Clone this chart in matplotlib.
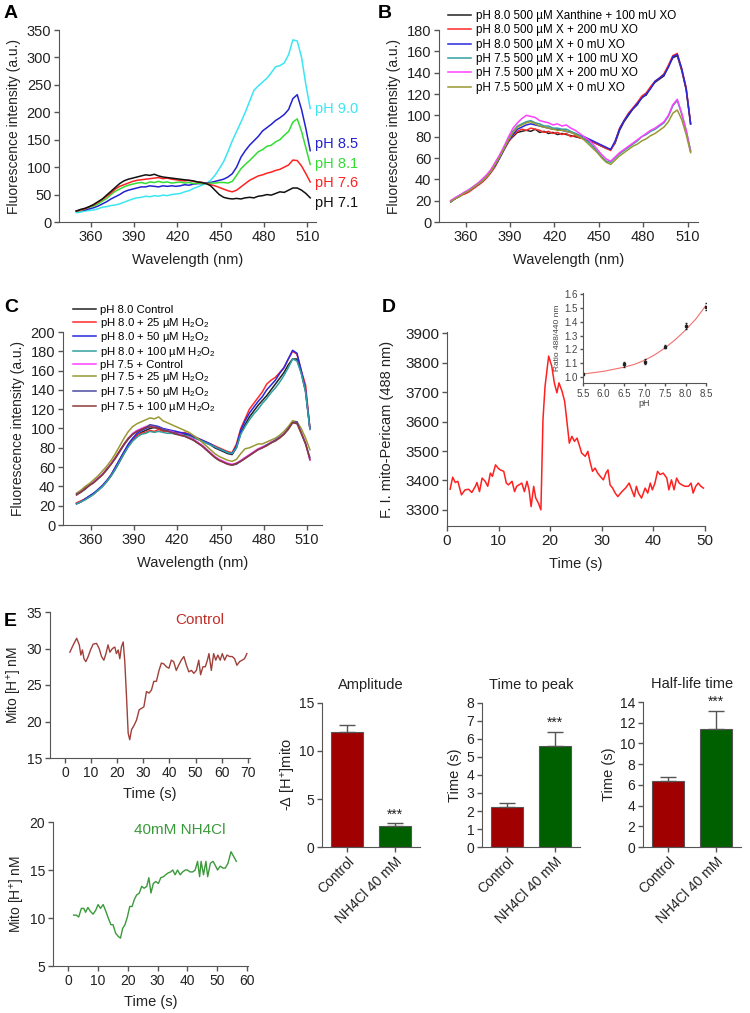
import matplotlib
matplotlib.use("Agg")
import matplotlib.pyplot as plt

plt.rcParams['font.family'] = ['Liberation Sans', 'DejaVu Sans']
plt.rcParams['mathtext.fontset'] = 'custom'
plt.rcParams['mathtext.rm'] = 'Liberation Sans'
plt.rcParams['mathtext.it'] = 'Liberation Sans:italic'

# wavelength grid of the spectra (nm)
wl = list(range(350, 513, 3))

# panel A: spectra at different pH
spec_a_ph90 = [17, 18, 20, 21, 22, 24, 27, 28, 30, 31,
               33, 36, 39, 42, 44, 45, 47, 46, 48, 47,
               49, 48, 50, 51, 52, 55, 57, 61, 64, 67,
               70, 76, 85, 97, 110, 128, 148, 165, 182, 200,
               220, 240, 248, 255, 262, 272, 283, 285, 290, 305,
               332, 330, 300, 250, 207]
spec_a_ph85 = [20, 21, 22, 24, 26, 29, 33, 37, 42, 46,
               50, 55, 58, 60, 62, 64, 64, 66, 65, 64,
               66, 65, 66, 65, 66, 68, 67, 69, 70, 70,
               71, 72, 74, 76, 78, 82, 88, 100, 118, 130,
               140, 148, 156, 166, 172, 178, 185, 190, 196, 205,
               225, 232, 205, 170, 130]
spec_a_ph81 = [20, 21, 24, 27, 29, 33, 38, 43, 50, 56,
               60, 64, 67, 69, 71, 72, 70, 73, 72, 74,
               72, 73, 71, 72, 73, 71, 72, 70, 71, 70,
               70, 71, 71, 72, 72, 71, 74, 85, 97, 105,
               112, 120, 128, 132, 138, 140, 146, 150, 158, 165,
               182, 188, 165, 135, 105]
spec_a_ph76 = [20, 22, 24, 28, 31, 36, 41, 47, 53, 60,
               65, 68, 71, 74, 76, 77, 78, 79, 80, 81,
               79, 80, 78, 77, 76, 75, 76, 74, 73, 72,
               70, 68, 66, 63, 60, 57, 55, 58, 64, 70,
               76, 80, 84, 86, 89, 91, 94, 96, 100, 104,
               113, 112, 102, 88, 73]
spec_a_ph71 = [20, 23, 25, 28, 32, 37, 42, 49, 56, 63,
               70, 75, 78, 80, 82, 84, 86, 85, 87, 84,
               82, 81, 80, 79, 78, 77, 76, 75, 73, 72,
               70, 66, 58, 50, 45, 43, 42, 43, 42, 44,
               45, 44, 47, 48, 50, 49, 52, 55, 54, 58,
               62, 62, 58, 52, 44]
labels_a = ['pH 9.0', 'pH 8.5', 'pH 8.1', 'pH 7.6', 'pH 7.1']
label_y_a = [206, 142, 106, 71, 35]

# panel B: xanthine / xanthine oxidase
spec_b_80_xo100 = [19, 22, 24, 27, 29, 32, 35, 38, 43, 48,
                   54, 61, 69, 76, 80, 84, 85, 86, 85, 87,
                   84, 85, 83, 84, 82, 83, 82, 81, 80, 79,
                   78, 76, 75, 73, 71, 69, 68, 74, 86, 94,
                   100, 106, 110, 117, 119, 126, 131, 134, 137, 146,
                   154, 156, 142, 124, 92]
spec_b_80_xo200 = [20, 22, 25, 26, 28, 31, 34, 37, 41, 46,
                   52, 60, 68, 75, 81, 85, 87, 86, 88, 87,
                   86, 84, 85, 83, 84, 82, 83, 80, 81, 79,
                   78, 77, 75, 73, 71, 69, 67, 75, 88, 95,
                   102, 107, 112, 118, 121, 127, 132, 135, 139, 147,
                   156, 158, 143, 126, 92]
spec_b_80_xo0 = [19, 22, 25, 27, 29, 32, 35, 38, 42, 47,
                 53, 60, 68, 76, 82, 87, 89, 91, 92, 91,
                 90, 89, 88, 87, 87, 86, 85, 84, 83, 81,
                 80, 78, 76, 74, 72, 70, 68, 76, 87, 95,
                 101, 106, 111, 116, 120, 125, 132, 135, 138, 145,
                 155, 157, 144, 125, 92]
spec_b_75_xo100 = [20, 22, 25, 27, 30, 33, 36, 39, 43, 48,
                   55, 62, 70, 78, 85, 90, 92, 94, 95, 93,
                   92, 90, 90, 88, 88, 87, 87, 85, 83, 81,
                   78, 75, 71, 66, 61, 57, 56, 60, 64, 67,
                   70, 73, 76, 80, 82, 85, 87, 90, 93, 99,
                   109, 114, 101, 86, 67]
spec_b_75_xo200 = [20, 23, 25, 28, 30, 33, 36, 40, 44, 49,
                   56, 63, 71, 80, 88, 93, 97, 100, 99, 98,
                   95, 94, 93, 91, 92, 90, 91, 88, 86, 83,
                   80, 77, 73, 68, 63, 59, 57, 61, 65, 68,
                   71, 74, 77, 80, 83, 86, 88, 91, 94, 100,
                   110, 115, 102, 86, 66]
spec_b_75_xo0 = [19, 22, 24, 27, 29, 32, 35, 38, 42, 47,
                 54, 61, 69, 77, 84, 89, 91, 93, 94, 92,
                 90, 89, 88, 87, 86, 86, 85, 84, 82, 80,
                 77, 73, 69, 65, 60, 56, 54, 58, 62, 65,
                 68, 71, 73, 76, 78, 81, 83, 86, 89, 94,
                 102, 105, 96, 82, 65]
labels_b = ['pH 8.0 500 µM Xanthine + 100 mU XO', 'pH 8.0 500 µM X + 200 mU XO',
            'pH 8.0 500 µM X + 0 mU XO', 'pH 7.5 500 µM X + 100 mU XO',
            'pH 7.5 500 µM X + 200 mU XO', 'pH 7.5 500 µM X + 0 mU XO']

# panel C: H2O2
spec_c_80_ctrl = [22, 24, 27, 30, 33, 36, 40, 45, 51, 58,
                  66, 74, 82, 88, 93, 96, 98, 100, 101, 100,
                  99, 98, 97, 96, 95, 94, 93, 91, 89, 87,
                  85, 83, 80, 78, 76, 74, 73, 80, 95, 104,
                  112, 118, 124, 129, 134, 140, 146, 152, 158, 166,
                  172, 172, 158, 138, 100]
spec_c_80_25 = [23, 25, 27, 29, 32, 36, 41, 46, 52, 60,
                68, 76, 83, 89, 93, 95, 96, 98, 97, 99,
                97, 98, 96, 97, 95, 96, 94, 92, 90, 88,
                86, 84, 82, 80, 78, 76, 75, 84, 100, 110,
                120, 126, 132, 138, 146, 150, 153, 158, 163, 172,
                180, 177, 160, 145, 100]
spec_c_80_50 = [22, 24, 27, 30, 33, 37, 41, 46, 52, 60,
                68, 76, 84, 90, 95, 98, 100, 102, 103, 102,
                100, 99, 98, 97, 96, 95, 94, 92, 90, 88,
                86, 84, 81, 79, 77, 75, 74, 82, 98, 108,
                116, 122, 128, 133, 140, 145, 150, 157, 163, 172,
                181, 178, 160, 140, 100]
spec_c_80_100 = [22, 24, 26, 29, 32, 36, 40, 45, 51, 58,
                 66, 74, 81, 87, 91, 94, 95, 97, 96, 97,
                 96, 95, 95, 94, 94, 93, 92, 90, 89, 87,
                 85, 83, 81, 79, 77, 75, 74, 80, 94, 102,
                 109, 115, 120, 126, 131, 137, 142, 148, 155, 163,
                 172, 170, 157, 138, 99]
spec_c_75_ctrl = [32, 35, 38, 42, 45, 49, 53, 58, 64, 70,
                  77, 84, 90, 95, 98, 100, 102, 103, 102, 101,
                  99, 98, 97, 95, 94, 92, 91, 89, 86, 83,
                  79, 75, 71, 68, 66, 64, 63, 64, 67, 70,
                  73, 76, 79, 81, 83, 86, 88, 91, 95, 100,
                  107, 106, 96, 85, 67]
spec_c_75_25 = [33, 36, 40, 43, 47, 51, 56, 61, 67, 74,
                82, 90, 97, 102, 105, 107, 109, 111, 110, 112,
                108, 106, 104, 102, 100, 98, 96, 93, 90, 86,
                82, 78, 74, 71, 69, 67, 66, 68, 74, 79,
                80, 82, 84, 84, 86, 88, 90, 93, 97, 102,
                108, 107, 100, 90, 78]
spec_c_75_50 = [32, 34, 37, 41, 44, 48, 52, 57, 63, 69,
                76, 83, 89, 94, 97, 99, 101, 104, 103, 101,
                99, 98, 96, 95, 93, 92, 90, 88, 85, 82,
                78, 74, 70, 67, 65, 63, 62, 63, 66, 69,
                72, 75, 78, 80, 83, 85, 88, 91, 94, 100,
                106, 107, 95, 84, 70]
spec_c_75_100 = [31, 34, 38, 41, 44, 48, 52, 58, 63, 70,
                 77, 84, 90, 94, 97, 99, 101, 102, 101, 100,
                 98, 97, 96, 94, 93, 92, 90, 88, 85, 82,
                 78, 74, 70, 67, 65, 63, 62, 64, 66, 69,
                 72, 75, 78, 80, 82, 85, 87, 90, 94, 99,
                 106, 105, 95, 84, 68]
h2o2 = r'H$_\mathregular{2}$O$_\mathregular{2}$'
labels_c = ['pH 8.0 Control', 'pH 8.0 + 25 µM ' + h2o2, 'pH 8.0 + 50 µM ' + h2o2,
            'pH 8.0 + 100 µM ' + h2o2, 'pH 7.5 + Control', 'pH 7.5 + 25 µM ' + h2o2,
            'pH 7.5 + 50 µM ' + h2o2, 'pH 7.5 + 100 µM ' + h2o2]

# panel D: mito-Pericam trace
d_time = [0.6, 1.1, 1.6, 2.1, 2.8, 3.5, 4.2, 4.8, 5.5, 5.8, 6.3, 6.8, 7.4, 7.9, 8.4,
          8.8, 9.4, 9.9, 10.3, 11.0, 11.5, 11.9, 12.6, 13.1, 13.5, 14.5, 15.0, 15.5,
          15.9, 16.3, 16.8, 17.2, 17.7, 18.2, 18.6, 19.0, 19.7, 20.3, 20.8, 21.3, 21.7,
          22.3, 22.8, 23.2, 23.7, 24.2, 24.7, 25.2, 25.6, 26.1, 26.8, 27.3, 27.7, 28.2,
          28.7, 29.2, 29.7, 30.3, 30.8, 31.2, 31.6, 32.1, 32.6, 33.1, 33.9, 34.6, 35.3,
          35.8, 36.3, 36.7, 37.1, 37.7, 38.4, 38.9, 39.4, 39.8, 40.3, 40.8, 41.3, 41.9,
          42.6, 43.0, 43.5, 44.0, 44.5, 45.0, 45.5, 46.1, 46.8, 47.3, 47.7, 48.2, 48.7,
          49.2, 49.7]
d_fi = [3370, 3411, 3393, 3397, 3351, 3368, 3370, 3359, 3380, 3393, 3362, 3408, 3397,
        3380, 3425, 3414, 3453, 3442, 3436, 3431, 3391, 3385, 3397, 3362, 3380, 3391,
        3362, 3397, 3368, 3311, 3380, 3340, 3323, 3300, 3607, 3720, 3823, 3789, 3732,
        3698, 3732, 3703, 3669, 3607, 3527, 3550, 3533, 3544, 3522, 3493, 3482, 3499,
        3465, 3431, 3442, 3425, 3414, 3402, 3425, 3436, 3385, 3374, 3357, 3345, 3362,
        3374, 3391, 3368, 3345, 3380, 3357, 3340, 3374, 3357, 3391, 3368, 3391, 3431,
        3420, 3425, 3408, 3368, 3402, 3368, 3408, 3391, 3385, 3380, 3380, 3391, 3357,
        3380, 3391, 3380, 3374]

# panel D inset: calibration
cal_ph = [5.5, 6.5, 7.0, 7.5, 8.0, 8.5]
cal_ratio = [1.02, 1.09, 1.11, 1.22, 1.37, 1.51]
cal_err = [0.01, 0.015, 0.02, 0.01, 0.02, 0.025]
fit_ph = [5.5, 5.75, 6.0, 6.25, 6.5, 6.75, 7.0, 7.25, 7.5, 7.75, 8.0, 8.25, 8.5]
fit_ratio = [1.02, 1.03, 1.04, 1.055, 1.07, 1.09, 1.12, 1.16, 1.21, 1.27, 1.34, 1.42, 1.52]

# panel E: traces
ctrl_t = [1.9, 3.2, 4.5, 5.5, 6.1, 6.7, 7.3, 8.0, 8.9, 9.8, 10.8, 12.1, 13.1, 14.0, 14.9,
          15.7, 16.5, 17.2, 18.2, 19.1, 19.7, 20.4, 21.0, 21.6, 22.3, 22.9, 23.5, 24.2,
          24.8, 25.5, 26.5, 27.4, 28.4, 29.3, 30.2, 31.2, 32.2, 33.1, 34.0, 35.0, 36.0,
          36.9, 37.8, 38.8, 39.8, 40.7, 41.6, 42.6, 43.5, 44.5, 45.5, 46.5, 47.4, 48.4,
          49.3, 50.3, 51.2, 51.9, 52.8, 53.7, 54.5, 55.1, 56.0, 56.9, 57.7, 58.5, 59.4,
          60.2, 61.1, 62.0, 63.0, 64.0, 64.9, 65.8, 66.8, 67.8, 68.7, 69.6]
ctrl_h = [29.5, 30.5, 31.4, 30.5, 29.1, 29.8, 28.6, 28.2, 28.9, 29.8, 30.6, 30.7, 30.0,
          28.9, 28.4, 29.3, 30.5, 29.5, 30.0, 30.2, 29.3, 29.8, 28.6, 30.2, 30.9, 28.2,
          23.9, 18.4, 17.5, 18.9, 19.5, 20.2, 21.6, 21.8, 22.0, 24.1, 23.9, 24.3, 25.5,
          25.5, 27.0, 28.0, 27.9, 27.5, 27.3, 28.4, 28.2, 27.0, 27.7, 28.4, 28.9, 27.7,
          26.8, 27.0, 26.6, 27.0, 28.4, 26.4, 27.5, 27.5, 28.4, 29.3, 27.0, 29.3, 28.4,
          29.1, 28.4, 29.3, 28.4, 29.1, 28.9, 28.9, 28.6, 27.7, 28.2, 28.4, 28.6, 29.3]
nh4_t = [1.9, 2.8, 3.6, 4.5, 5.3, 5.9, 6.7, 7.5, 8.4, 9.3, 10.1, 10.9, 11.8, 12.7, 13.5,
         14.4, 15.1, 16.0, 16.8, 17.6, 18.3, 19.1, 19.9, 20.7, 21.5, 22.2, 23.0, 23.9,
         24.7, 25.5, 26.4, 27.1, 27.8, 28.6, 29.4, 30.3, 31.1, 32.0, 32.7, 33.6, 34.4,
         35.1, 35.9, 36.7, 37.6, 38.4, 39.3, 40.0, 40.9, 41.8, 42.6, 43.4, 44.1, 44.6,
         45.4, 46.2, 46.8, 47.7, 48.6, 49.3, 50.1, 51.0, 51.9, 52.7, 53.6, 54.6, 55.5, 56.4]
nh4_h = [10.3, 10.3, 10.1, 11.0, 11.0, 10.6, 11.1, 10.7, 10.4, 10.8, 11.4, 11.0, 11.4,
         10.7, 10.0, 9.3, 9.3, 8.4, 8.1, 7.9, 8.9, 9.3, 10.1, 11.2, 11.2, 11.9, 12.4, 12.6,
         13.3, 13.1, 13.3, 14.2, 12.6, 13.6, 13.8, 13.6, 14.2, 14.3, 14.5, 14.7, 14.8,
         15.0, 14.5, 15.0, 14.5, 14.8, 15.0, 15.0, 14.8, 14.8, 15.0, 15.9, 14.3, 15.9,
         14.5, 15.9, 14.3, 15.7, 15.9, 15.5, 15.0, 15.4, 15.2, 15.2, 15.7, 16.9, 16.4, 15.9]

# panel E: bar summaries
groups = ['Control', 'NH4Cl 40 mM']
amp_mean = [12.0, 2.2]
amp_err = [0.75, 0.25]
ttp_mean = [2.25, 5.6]
ttp_err = [0.17, 0.8]
hl_mean = [6.4, 11.4]
hl_err = [0.4, 1.75]

W, H = 750.0, 1013.0


def box(left, top, right, bottom):
    return [left / W, 1 - bottom / H, (right - left) / W, (bottom - top) / H]


def style(ax, size=10.5):
    for side in ['top', 'right']:
        ax.spines[side].set_visible(False)
    for side in ['left', 'bottom']:
        ax.spines[side].set_color('#555555')
    ax.tick_params(colors='#555555', labelcolor='#222222', labelsize=size,
                   length=3.5, width=1, pad=2)


fig = plt.figure(figsize=(7.5, 10.13), dpi=100)

# ---- A ----
axA = fig.add_axes(box(59, 30, 316, 222))
colors_a = ['#3ae6f2', '#2222d0', '#33dd33', '#ff2222', '#111111']
for spec, c, lab, ly in zip([spec_a_ph90, spec_a_ph85, spec_a_ph81, spec_a_ph76, spec_a_ph71],
                            colors_a, labels_a, label_y_a):
    axA.plot(wl, spec, color=c, lw=1.1)
    axA.text(515, ly, lab, color=c, fontsize=10.5, va='center', ha='left', clip_on=False)
axA.set_xlim(338, 516)
axA.set_ylim(0, 350)
axA.set_xticks(range(360, 511, 30))
axA.set_yticks(range(0, 351, 50))
style(axA)
axA.set_xlabel('Wavelength (nm)', fontsize=10.5, color='#222222', labelpad=7)
axA.set_ylabel('Fluorescence intensity (a.u.)', fontsize=10, color='#222222', labelpad=4)

# ---- B ----
axB = fig.add_axes(box(439, 30, 698, 222))
colors_b = ['#222222', '#ff2a2a', '#2828e0', '#30a0a0', '#ff40ff', '#999933']
for spec, c, lab in zip([spec_b_80_xo100, spec_b_80_xo200, spec_b_80_xo0,
                         spec_b_75_xo100, spec_b_75_xo200, spec_b_75_xo0], colors_b, labels_b):
    axB.plot(wl, spec, color=c, lw=1.1, label=lab)
axB.set_xlim(342, 517)
axB.set_ylim(0, 180)
axB.set_xticks(range(360, 511, 30))
axB.set_yticks(range(0, 181, 20))
style(axB)
axB.set_xlabel('Wavelength (nm)', fontsize=10.5, color='#222222', labelpad=7)
axB.set_ylabel('Fluorescence intensity (a.u.)', fontsize=10, color='#222222', labelpad=4)
axB.legend(loc='upper left', bbox_to_anchor=(448 / W, 1 - 10 / H), bbox_transform=fig.transFigure,
           frameon=False, fontsize=8.4, handlelength=2.0, handletextpad=0.4,
           labelspacing=0.2, borderpad=0, borderaxespad=0)

# ---- C ----
axC = fig.add_axes(box(63, 332, 322, 525))
colors_c = ['#222222', '#ff2a2a', '#2828e0', '#30a0a0', '#ff40ff', '#999933', '#4a4aa0', '#8e3a3a']
for spec, c, lab in zip([spec_c_80_ctrl, spec_c_80_25, spec_c_80_50, spec_c_80_100,
                         spec_c_75_ctrl, spec_c_75_25, spec_c_75_50, spec_c_75_100],
                        colors_c, labels_c):
    axC.plot(wl, spec, color=c, lw=1.1, label=lab)
axC.set_xlim(340.6, 520.4)
axC.set_ylim(0, 200)
axC.set_xticks(range(360, 511, 30))
axC.set_yticks(range(0, 201, 20))
style(axC)
axC.set_xlabel('Wavelength (nm)', fontsize=10.5, color='#222222', labelpad=7)
axC.set_ylabel('Fluorescence intensity (a.u.)', fontsize=10, color='#222222', labelpad=4)
axC.legend(loc='upper left', bbox_to_anchor=(73 / W, 1 - 305 / H), bbox_transform=fig.transFigure,
           frameon=False, fontsize=8.2, handlelength=2.0, handletextpad=0.4,
           labelspacing=0.06, borderpad=0, borderaxespad=0)

# ---- D ----
axD = fig.add_axes(box(447, 332, 705, 526))
axD.plot(d_time, d_fi, color='#ff2020', lw=1.1)
axD.set_xlim(0, 50)
axD.set_ylim(3245, 3905)
axD.set_xticks(range(0, 51, 10))
axD.set_yticks(range(3300, 3901, 100))
style(axD, 11)
axD.set_xlabel('Time (s)', fontsize=10.5, color='#222222', labelpad=7)
axD.set_ylabel('F. I. mito-Pericam (488 nm)', fontsize=10.5, color='#222222', labelpad=8)

axI = fig.add_axes(box(583, 293, 706, 383))
axI.plot(fit_ph, fit_ratio, color='#f07070', lw=0.8)
axI.errorbar(cal_ph, cal_ratio, yerr=cal_err, fmt='s', color='#222222', ms=2, lw=0.6,
             capsize=1, elinewidth=0.6)
axI.set_xlim(5.5, 8.5)
axI.set_ylim(0.955, 1.61)
axI.set_xticks([5.5, 6.0, 6.5, 7.0, 7.5, 8.0, 8.5])
axI.set_yticks([1.0, 1.1, 1.2, 1.3, 1.4, 1.5, 1.6])
axI.set_xticklabels(['5.5', '6.0', '6.5', '7.0', '7.5', '8.0', '8.5'])
axI.set_yticklabels(['1.0', '1.1', '1.2', '1.3', '1.4', '1.5', '1.6'])
style(axI, 7)
axI.tick_params(length=2, labelcolor='#444444')
axI.set_xlabel('pH', fontsize=6.5, color='#444444', labelpad=0)
axI.set_ylabel('Ratio 488/440 nm', fontsize=6, color='#444444', labelpad=2)

# ---- E traces ----
axE1 = fig.add_axes(box(50, 612, 250, 758))
axE1.plot(ctrl_t, ctrl_h, color='#a0403a', lw=1.0)
axE1.set_xlim(-5.7, 70.8)
axE1.set_ylim(15, 35)
axE1.set_xticks(range(0, 71, 10))
axE1.set_yticks(range(15, 36, 5))
style(axE1, 10)
axE1.set_xlabel('Time (s)', fontsize=10.5, color='#222222', labelpad=5)
axE1.set_ylabel(r'Mito [H$^\mathregular{+}$] nM', fontsize=10, color='#222222', labelpad=2)
axE1.text(51.6, 33.9, 'Control', color='#c0302b', fontsize=11, ha='center', va='center')

axE2 = fig.add_axes(box(53, 822, 248, 966))
axE2.plot(nh4_t, nh4_h, color='#3a9a3a', lw=1.0)
axE2.set_xlim(-5, 60.3)
axE2.set_ylim(5, 20)
axE2.set_xticks(range(0, 61, 10))
axE2.set_yticks(range(5, 21, 5))
style(axE2, 10)
axE2.set_xlabel('Time (s)', fontsize=10.5, color='#222222', labelpad=5)
axE2.set_ylabel(r'Mito [H$^\mathregular{+}$] nM', fontsize=10, color='#222222', labelpad=2)
axE2.text(37.5, 19.2, '40mM NH4Cl', color='#3a9a3a', fontsize=11, ha='center', va='center')

# ---- E bars ----
bar_colors = ['#a00000', '#006000']
bar_specs = [
    (box(322, 703, 420, 847), amp_mean, amp_err, 'Amplitude', r'-$\Delta$ [H$^\mathregular{+}$]mito',
     15, [0, 5, 10, 15], 1),
    (box(482, 703, 580, 847), ttp_mean, ttp_err, 'Time to peak', 'Time (s)', 8, list(range(0, 9)), 3),
    (box(643, 702, 741, 847), hl_mean, hl_err, 'Half-life time', 'Time (s)', 14,
     list(range(0, 15, 2)), 3),
]
for pos, means, errs, title, ylab, ymax, yt, lpad in bar_specs:
    ax = fig.add_axes(pos)
    ax.bar([0, 1], means, width=0.66, color=bar_colors, edgecolor='#555555', lw=0.8)
    ax.errorbar([0, 1], means, yerr=[[0, 0], errs], fmt='none', ecolor='#555555',
                elinewidth=1.0, capsize=6, capthick=1.0)
    ax.text(1, means[1] + errs[1] + ymax * 0.015, '***', ha='center', va='bottom',
            fontsize=10, color='#222222')
    ax.set_xlim(-0.52, 1.52)
    ax.set_ylim(0, ymax)
    ax.set_yticks(yt)
    ax.set_xticks([0, 1])
    ax.set_xticklabels(groups, rotation=45, ha='right', rotation_mode='anchor')
    style(ax, 10)
    ax.set_title(title, fontsize=10.5, color='#222222', pad=10)
    ax.set_ylabel(ylab, fontsize=10.5, color='#222222', labelpad=lpad)

# panel letters
for letter, x, y in [('A', 4, 13), ('B', 378, 13), ('C', 4, 307), ('D', 382, 307), ('E', 4, 622)]:
    fig.text(x / W, 1 - y / H, letter, fontsize=14, fontweight='bold', va='center', ha='left')

fig.savefig('out.png', dpi=100)
